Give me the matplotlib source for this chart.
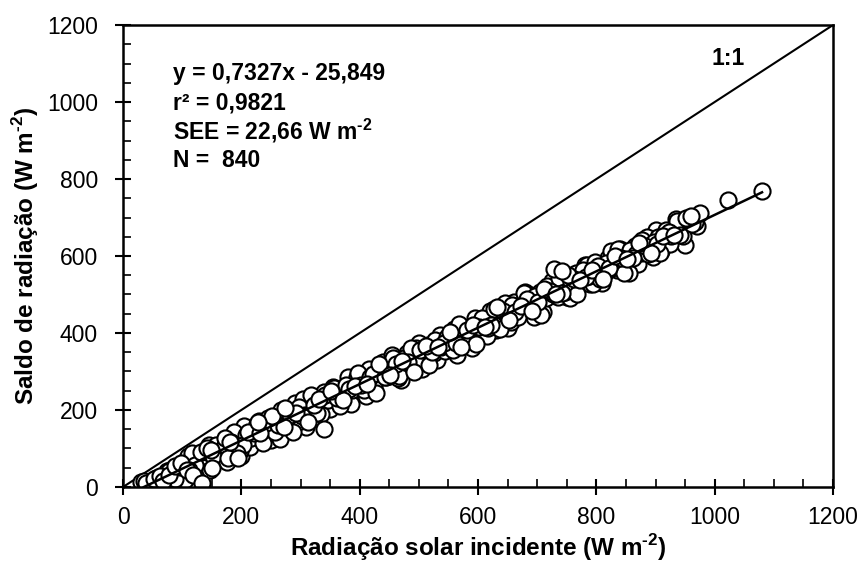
import matplotlib
matplotlib.use("Agg")
import matplotlib.pyplot as plt
from matplotlib.ticker import MultipleLocator

plt.rcParams['font.family'] = ['Liberation Sans', 'DejaVu Sans']
plt.rcParams['mathtext.fontset'] = 'custom'
plt.rcParams['mathtext.rm'] = 'Liberation Sans:bold'
plt.rcParams['mathtext.bf'] = 'Liberation Sans:bold'

# radiação solar incidente (W m-2)
rad_incidente = [
    40, 50, 60, 70, 80, 90, 100, 110, 120, 130, 140, 150, 160, 170, 180, 190, 200, 210, 220, 230,
    240, 250, 260, 270, 280, 290, 300, 310, 320, 330, 340, 350, 360, 370, 380, 390, 400, 410, 420, 430,
    440, 450, 460, 470, 480, 490, 500, 510, 520, 530, 540, 550, 560, 570, 580, 590, 600, 610, 620, 630,
    640, 650, 660, 670, 680, 690, 700, 710, 720, 730, 740, 750, 760, 770, 780, 790, 800, 810, 820, 830,
    840, 850, 860, 870, 880, 890, 900, 910, 920, 930, 940, 950, 960, 970,
    45, 55, 65, 75, 85, 95, 105, 115, 125, 135, 145, 155, 165, 175, 185, 195, 205, 215, 225, 235,
    245, 255, 265, 275, 285, 295, 305, 315, 325, 335, 345, 355, 365, 375, 385, 395, 405, 415, 425, 435,
    445, 455, 465, 475, 485, 495, 505, 515, 525, 535, 545, 555, 565, 575, 585, 595, 605, 615, 625, 635,
    645, 655, 665, 675, 685, 695, 705, 715, 725, 735, 745, 755, 765, 775, 785, 795, 805, 815, 825, 835,
    845, 855, 865, 875, 885, 895, 905, 915, 925, 935, 945, 955, 965,
    37, 47, 57, 67, 77, 87, 97, 107, 117, 127, 137, 147, 157, 167, 177, 187, 197, 207, 217, 227,
    237, 247, 257, 267, 277, 287, 297, 307, 317, 327, 337, 347, 357, 367, 377, 387, 397, 407, 417, 427,
    437, 447, 457, 467, 477, 487, 497, 507, 517, 527, 537, 547, 557, 567, 577, 587, 597, 607, 617, 627,
    637, 647, 657, 667, 677, 687, 697, 707, 717, 727, 737, 747, 757, 767, 777, 787, 797, 807, 817, 827,
    837, 847, 857, 867, 877, 887, 897, 907, 917, 927, 937, 947, 957, 967,
    102, 122, 142, 162, 182, 202, 222, 242, 262, 282, 302, 322, 342, 362, 382, 402, 422, 442, 462, 482,
    502, 522, 542, 562, 582, 602, 622, 642, 662, 682, 702, 722, 742, 762, 782, 802, 822, 842, 862, 882,
    902, 922, 942, 962,
    112, 132, 152, 172, 192, 212, 232, 252, 272, 292, 312, 332, 352, 372, 392, 412, 432, 452, 472, 492,
    512, 532, 552, 572, 592, 612, 632, 652, 672, 692, 712, 732, 752, 772, 792, 812, 832, 852, 872, 892,
    912, 932, 952,
    30, 35, 38, 52, 62, 68, 78, 88, 98, 108, 118, 133, 142, 150, 148, 172, 177, 194, 180, 228,
    274, 340, 728, 742, 975, 960, 1022, 1080,
]

# saldo de radiação (W m-2)
saldo = [
    8, 8, 25, 19, 43, 42, 38, 80, 54, 79, 47, 100, 89, 74, 128, 118, 81, 140, 120, 171,
    144, 122, 183, 174, 157, 217, 184, 156, 224, 213, 247, 203, 245, 231, 285, 240, 268, 237, 301, 280,
    324, 288, 315, 277, 347, 322, 374, 324, 361, 330, 383, 376, 411, 373, 408, 362, 431, 414, 457, 409,
    446, 414, 481, 452, 507, 459, 498, 454, 516, 505, 541, 494, 539, 521, 577, 527, 562, 529, 595, 570,
    618, 574, 614, 578, 635, 620, 667, 612, 653, 641, 685, 629, 690, 677,
    5, 23, 20, 42, 26, 47, 18, 73, 67, 49, 110, 76, 104, 65, 130, 112, 158, 104, 150, 130,
    178, 159, 125, 193, 190, 169, 229, 196, 225, 190, 231, 261, 224, 259, 216, 286, 265, 307, 261, 295,
    286, 343, 284, 334, 326, 362, 306, 370, 349, 396, 352, 387, 343, 416, 404, 438, 400, 391, 446, 436,
    479, 428, 470, 457, 500, 441, 507, 491, 535, 494, 525, 490, 556, 541, 576, 528, 575, 556, 613, 564,
    596, 557, 627, 607, 649, 598, 650, 645, 632, 695, 656, 698, 689,
    9, 5, 18, 19, 42, 22, 51, 51, 87, 50, 81, 43, 108, 97, 91, 144, 93, 134, 128, 164,
    113, 168, 144, 199, 180, 143, 208, 188, 240, 191, 230, 227, 257, 211, 264, 251, 295, 253, 285, 244,
    312, 290, 335, 288, 325, 362, 323, 356, 316, 383, 364, 390, 357, 423, 388, 411, 372, 439, 412, 462,
    411, 450, 473, 442, 505, 467, 497, 448, 522, 501, 543, 506, 533, 501, 563, 549, 585, 541, 582, 568,
    619, 557, 616, 604, 642, 604, 637, 608, 667, 653, 691, 653, 692, 688,
    54, 56, 90, 90, 116, 108, 139, 166, 160, 188, 184, 214, 238, 230, 255, 264, 293, 285, 319, 325,
    356, 350, 374, 374, 409, 415, 420, 456, 455, 489, 481, 508, 503, 541, 546, 574, 570, 594, 595, 627,
    632, 663, 655, 683,
    44, 91, 80, 108, 88, 143, 141, 184, 155, 193, 170, 228, 250, 225, 263, 267, 319, 291, 327, 299,
    365, 363, 402, 364, 420, 416, 468, 435, 471, 457, 515, 500, 551, 537, 563, 541, 599, 592, 635, 609,
    652, 655, 699,
    12, 15, 10, 20, 28, 15, 30, 55, 62, 45, 31, 10, 101, 49, 95, 127, 75, 75, 118, 169,
    205, 150, 565, 560, 712, 705, 745, 768,
]

# regressão linear ajustada
slope = 0.7327
intercept = -25.849
fit_x = [-intercept / slope, 1080]

fig = plt.figure(figsize=(8.61, 5.66), dpi=100)
ax = fig.add_axes([0.1429, 0.1396, 0.8246, 0.8162])

ax.plot([0, 1200], [0, 1200], color='black', lw=1.5, zorder=1)
ax.scatter(rad_incidente, saldo, s=135, facecolors='white', edgecolors='black',
           linewidths=1.5, zorder=2)
ax.plot(fit_x, [slope * v + intercept for v in fit_x], color='black', lw=1.8, zorder=3)

ax.set_xlim(0, 1200)
ax.set_ylim(0, 1200)
ax.xaxis.set_major_locator(MultipleLocator(200))
ax.yaxis.set_major_locator(MultipleLocator(200))
ax.xaxis.set_minor_locator(MultipleLocator(50))
ax.yaxis.set_minor_locator(MultipleLocator(50))
ax.tick_params(which='major', direction='inout', length=12, width=1.5, labelsize=16.5, pad=8)
ax.tick_params(axis='y', which='major', pad=12)
ax.tick_params(which='minor', direction='in', length=6, width=1.2)
for sp in ax.spines.values():
    sp.set_linewidth(1.8)

ax.set_xlabel(r'Radiação solar incidente (W m$^{\text{-2}}$)', fontsize=17.5, fontweight='bold',
              labelpad=2)
ax.set_ylabel(r'Saldo de radiação (W m$^{\text{-2}}$)', fontsize=17.5, fontweight='bold')

txt = dict(fontsize=16.5, fontweight='bold', va='center', ha='left')
ax.text(84, 1073, 'y = 0,7327x - 25,849', **txt)
ax.text(84, 997, 'r² = 0,9821', **txt)
ax.text(84, 925, r'SEE = 22,66 W m$^{\text{-2}}$', **txt)
ax.text(84, 847, 'N =  840', **txt)
ax.text(1022, 1114, '1:1', fontsize=16.5, fontweight='bold', va='center', ha='center')

fig.savefig('out.png', dpi=100)
